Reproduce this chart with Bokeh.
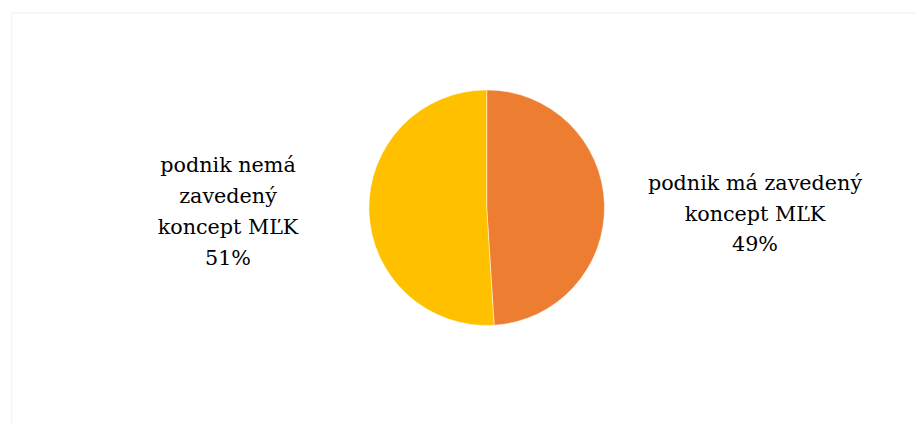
import numpy as np
from bokeh.plotting import figure
from bokeh.models import Range1d, ColumnDataSource, BoxAnnotation
from bokeh.core.properties import value
from bokeh.embed import file_html
from bokeh.resources import INLINE

# ---- data ----
categories = ["podnik má zavedený\nkoncept MĽK", "podnik nemá\nzavedený\nkoncept MĽK"]
shares = [49, 51]
colors = ["#ED7D31", "#FFC000"]

W, H = 916, 425
p = figure(width=W, height=H, output_backend="svg", toolbar_location=None,
           x_range=Range1d(0, W), y_range=Range1d(0, H),
           min_border=0, min_border_left=0, min_border_right=0,
           min_border_top=0, min_border_bottom=0)
p.axis.visible = False
p.grid.visible = False
p.outline_line_color = None
p.background_fill_color = "white"
p.border_fill_color = "white"

# chart area border
p.add_layout(BoxAnnotation(left=11, right=W + 50, top=H - 12.5, bottom=-50,
                           fill_alpha=0, line_color="#d9d9d9", line_width=1.3))

# pie geometry (clockwise from 12 o'clock)
cx, cy, r = 486.2, 217.8, 117.8
vals = np.array(shares, dtype=float)
frac = vals / vals.sum()
cum = np.concatenate([[0], np.cumsum(frac)])
start_cw = np.pi / 2 - cum[:-1] * 2 * np.pi
end_cw = np.pi / 2 - cum[1:] * 2 * np.pi

src = ColumnDataSource(dict(x=[cx] * len(vals), y=[cy] * len(vals),
                            start=list(end_cw), end=list(start_cw), color=colors))
p.wedge(x="x", y="y", radius=r, start_angle="start", end_angle="end",
        fill_color="color", line_color="white", line_width=0.5, source=src)

# labels: one text row per line
label_anchor_x = [754.5, 227.5]
label_anchor_y = [425 - 213.0, 425 - 211.0]   # centre of each block
line_h = 30.7
tx, ty, tt = [], [], []
for i, (c, s) in enumerate(zip(categories, shares)):
    lines = c.split("\n") + [f"{s}%"]
    n = len(lines)
    for k, ln in enumerate(lines):
        tx.append(label_anchor_x[i])
        ty.append(label_anchor_y[i] - (k - (n - 1) / 2) * line_h)
        tt.append(ln)
lsrc = ColumnDataSource(dict(x=tx, y=ty, text=tt))
p.text(x="x", y="y", text="text", source=lsrc, text_align="center",
       text_baseline="middle", text_font=value("DejaVu Serif"),
       text_font_size="20.7px", text_color="#000000")

open("out.html", "w").write(file_html(p, INLINE))
